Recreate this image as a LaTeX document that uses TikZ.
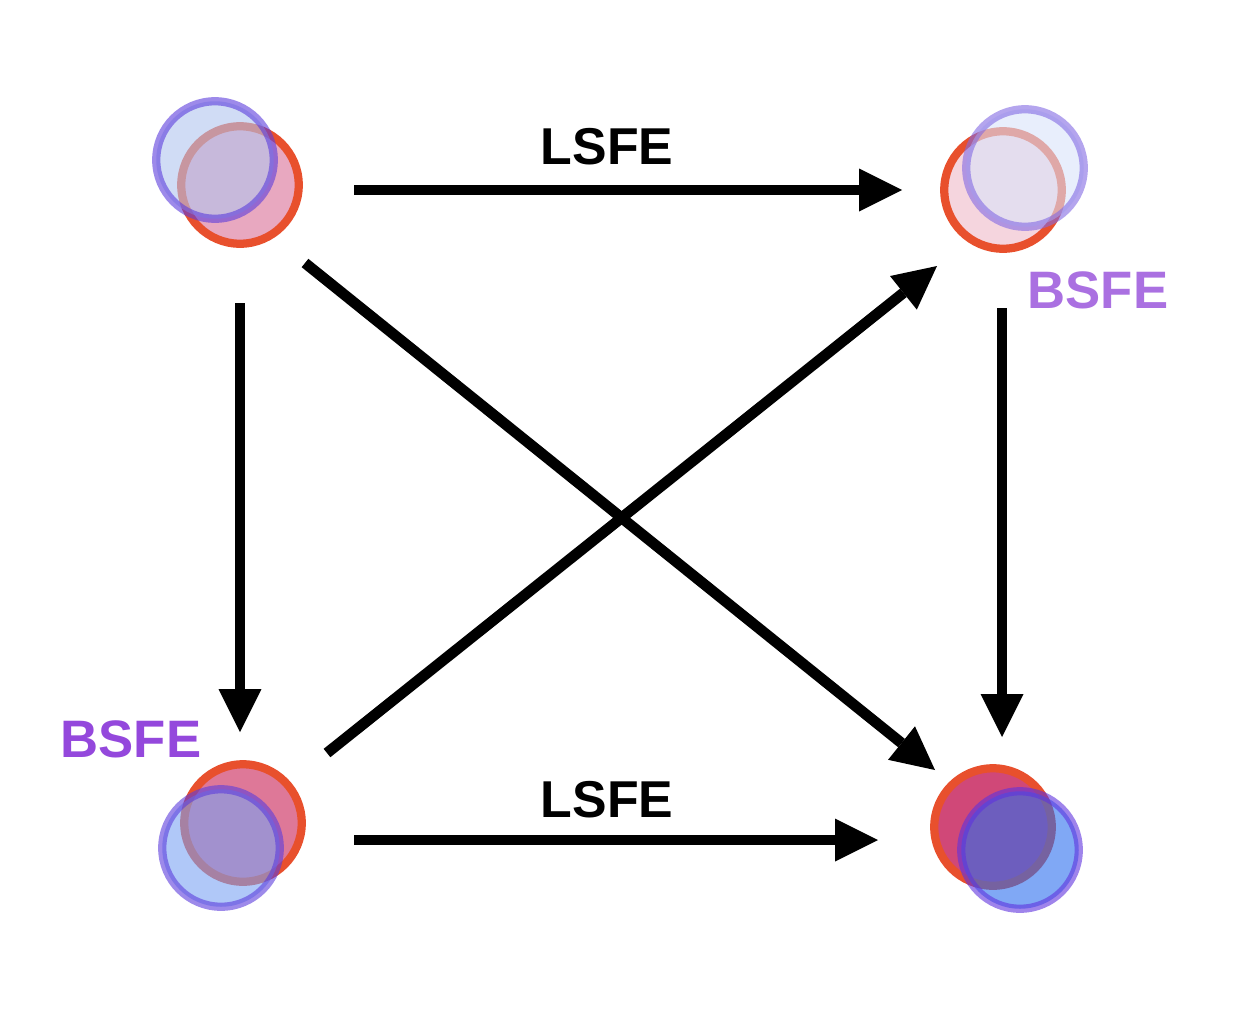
\documentclass[tikz,border=0pt]{standalone}
\usepackage{fontspec}
\setmainfont{Liberation Sans}
\usepackage{tikz}
\usetikzlibrary{arrows.meta,positioning}
\usepackage{xcolor}
\definecolor{redline}{RGB}{232,80,45}
\definecolor{bsfetop}{RGB}{170,112,225}
\definecolor{bsfebot}{RGB}{148,72,220}
% fills per corner (red under, blue over)
\definecolor{rfA}{RGB}{232,168,192}
\definecolor{bfA}{RGB}{177,197,238}
\definecolor{blA}{RGB}{92,60,220}
\definecolor{rfB}{RGB}{245,213,222}
\definecolor{bfB}{RGB}{217,227,250}
\definecolor{blB}{RGB}{130,105,227}
\definecolor{rfC}{RGB}{222,120,152}
\definecolor{bfC}{RGB}{123,163,243}
\definecolor{blC}{RGB}{92,60,220}
\definecolor{rfD}{RGB}{208,72,120}
\definecolor{bfD}{RGB}{43,110,238}
\definecolor{blD}{RGB}{95,50,222}

\begin{document}
\begin{tikzpicture}[x=0.02cm, y=-0.02cm,
    redring/.style={circle, draw=redline, line width=0.165cm,
        minimum size=2.35cm, inner sep=0pt},
    bluering/.style={circle, line width=0.165cm, minimum size=2.35cm,
        inner sep=0pt, fill opacity=0.6, draw opacity=0.6},
    arr/.style={-{Triangle[length=0.86cm, width=0.86cm, line width=0pt]},
        line width=0.215cm, black},
    lsfe/.style={font=\bfseries\fontsize{29.5}{35}\selectfont, inner sep=0pt},
    bsfe/.style={font=\bfseries\fontsize{30}{36}\selectfont, inner sep=0pt}
]
    \useasboundingbox (0,0) rectangle (1260,1018);

    % four feature pairs
    \node[redring, fill=rfA] (ar) at (240,185) {};
    \node[bluering, draw=blA, fill=bfA] (ab) at (215,160) {};
    \node[redring, fill=rfB] (br) at (1003,190) {};
    \node[bluering, draw=blB, fill=bfB] (bb) at (1025,168) {};
    \node[redring, fill=rfC] (cr) at (243,823) {};
    \node[bluering, draw=blC, fill=bfC] (cb) at (221,848) {};
    \node[redring, fill=rfD] (dr) at (993,827) {};
    \node[bluering, draw=blD, fill=bfD] (db) at (1020,850) {};

    % arrow ends
    \coordinate (a1) at (354,190);
    \coordinate (b1) at (902,190);
    \coordinate (c1) at (354,840);
    \coordinate (d1) at (878,840);
    \coordinate (a2) at (240,303);
    \coordinate (c2) at (240,732);
    \coordinate (b2) at (1002,308);
    \coordinate (d2) at (1002,737);
    \coordinate (a3) at (305,263);
    \coordinate (d3) at (935,770);
    \coordinate (c3) at (327,753);
    \coordinate (b3) at (937,266);

    \draw[arr] (a1) -- (b1);
    \draw[arr] (c1) -- (d1);
    \draw[arr] (a2) -- (c2);
    \draw[arr] (b2) -- (d2);
    \draw[arr] (a3) -- (d3);
    \draw[arr] (c3) -- (b3);

    % labels
    \node[lsfe] (l1) at (607,147) {LSFE};
    \node[lsfe] (l2) at (607,800) {LSFE};
    \node[bsfe, text=bsfetop] (s1) at (1098,290) {BSFE};
    \node[bsfe, text=bsfebot] (s2) at (131,739) {BSFE};
\end{tikzpicture}
\end{document}
